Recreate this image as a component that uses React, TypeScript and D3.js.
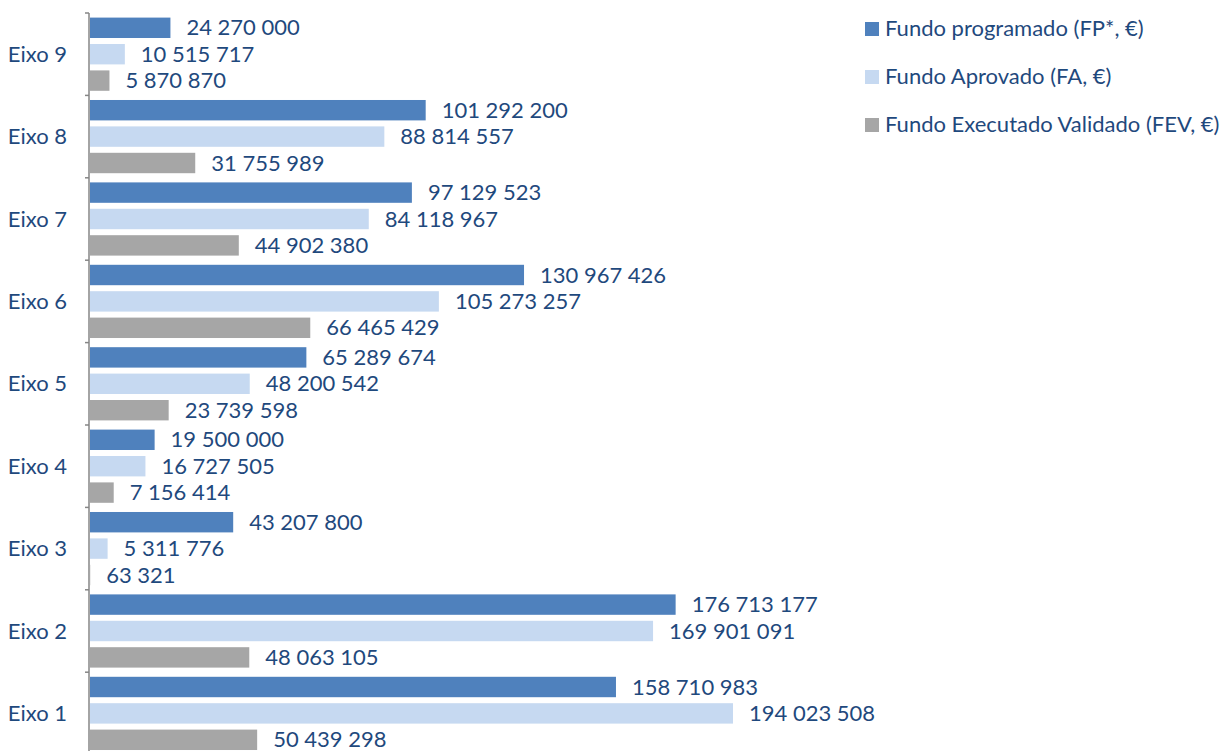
import React from "react";
import * as d3 from "d3";

const categories = ["Eixo 1", "Eixo 2", "Eixo 3", "Eixo 4", "Eixo 5", "Eixo 6", "Eixo 7", "Eixo 8", "Eixo 9"];
const seriesNames = ["Fundo programado (FP*, €)", "Fundo Aprovado (FA, €)", "Fundo Executado Validado (FEV, €)"];
const fundoProgramado = [158710983, 176713177, 43207800, 19500000, 65289674, 130967426, 97129523, 101292200, 24270000];
const fundoAprovado = [194023508, 169901091, 5311776, 16727505, 48200542, 105273257, 84118967, 88814557, 10515717];
const fundoExecutado = [50439298, 48063105, 63321, 7156414, 23739598, 66465429, 44902380, 31755989, 5870870];

const colors = ["#4f81bd", "#c6d9f1", "#a6a6a6"];
const textColor = "#1f497d";
const font = "Lato, 'Open Sans', sans-serif";
const fs = 22;

const W = 1225;
const H = 751;

export default function App() {
  const values = [fundoProgramado, fundoAprovado, fundoExecutado];

  // categories run bottom (Eixo 1) to top (Eixo 9)
  const bandH = 82.4;
  const top = 13;
  const y = d3.scaleBand<string>()
    .domain(categories.slice().reverse())
    .range([top, top + bandH * categories.length]);
  const inner = d3.scaleBand<number>()
    .domain([0, 1, 2])
    .range([0, y.bandwidth()])
    .paddingInner(0.227)
    .paddingOuter(0.174);

  const x = d3.scaleLinear().domain([0, 200000000]).range([90, 90 + 200 * 3.314]);

  const fmt = d3.formatLocale({ thousands: " ", grouping: [3], decimal: ",", currency: ["", "€"] }).format(",d");

  const axisX = 89;

  return (
    <svg width={W} height={H} style={{ position: "absolute", left: 0, top: 0, background: "#fff" }}
      fontFamily={font}>
      {categories.map((c, ci) => (
        <g key={c} transform={`translate(0,${y(c)})`}>
          {values.map((arr, si) => (
            <g key={si}>
              <rect x={x(0)} y={inner(si)} width={Math.max(0, x(arr[ci]) - x(0))} height={inner.bandwidth()}
                fill={colors[si]} />
              <text x={x(arr[ci]) + 16} y={(inner(si) ?? 0) + inner.bandwidth() / 2 + 2}
                dominantBaseline="middle" fontSize={fs} fill={textColor}>
                {fmt(arr[ci])}
              </text>
            </g>
          ))}
          <text x={67} y={y.bandwidth() / 2 + 2} textAnchor="end" dominantBaseline="middle"
            fontSize={fs} fill={textColor}>{c}</text>
        </g>
      ))}

      {/* category axis */}
      <line x1={axisX} x2={axisX} y1={top} y2={top + bandH * categories.length} stroke="#868686" strokeWidth={1.5} />
      {d3.range(categories.length + 1).map((i) => (
        <line key={i} x1={axisX - 4} x2={axisX} y1={top + i * bandH} y2={top + i * bandH}
          stroke="#868686" strokeWidth={1.5} />
      ))}

      {/* legend */}
      {seriesNames.map((s, i) => (
        <g key={s} transform={`translate(865,${29 + i * 48})`}>
          <rect x={0} y={-7} width={14} height={14} fill={colors[i]} />
          <text x={20} y={1} dominantBaseline="middle" fontSize={fs} fill={textColor}>{s}</text>
        </g>
      ))}
    </svg>
  );
}
